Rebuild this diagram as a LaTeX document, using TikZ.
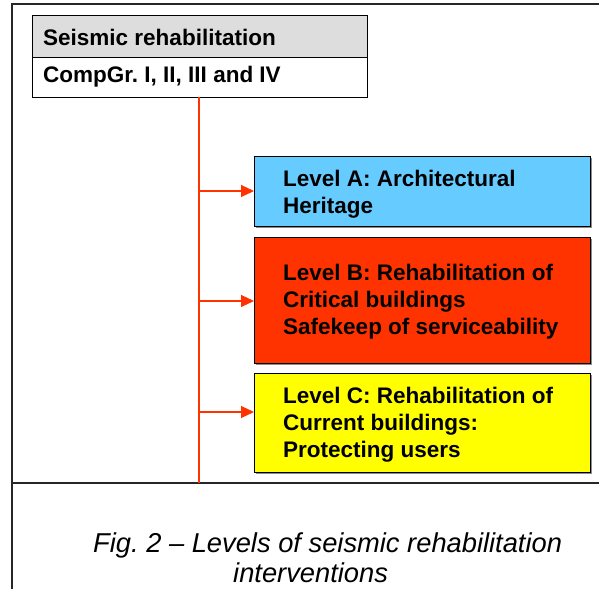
\documentclass[tikz,border=0pt]{standalone}
\usepackage{fontspec}
\setmainfont{Liberation Sans}
\usetikzlibrary{arrows.meta}
\frenchspacing
\definecolor{hdrgrey}{HTML}{DDDDDD}
\definecolor{lvlA}{HTML}{66CCFF}
\definecolor{lvlB}{HTML}{FF3300}
\definecolor{lvlC}{HTML}{FFFF00}
\definecolor{conn}{HTML}{FF3300}
\tikzset{
  frame/.style={draw=black!85, line width=1.4pt},
  levelbox/.style={draw=black, line width=0.9pt},
  boxshadow/.style={fill=black!45, draw=none},
  lbl/.style={font={\bfseries\fontsize{22.5}{26.8}\selectfont}, inner sep=0pt, align=left},
  hdr/.style={font={\bfseries\fontsize{22.5}{26}\selectfont}, inner sep=0pt},
  captext/.style={font={\itshape\fontsize{27.3}{30}\selectfont}, inner sep=0pt},
  link/.style={draw=conn, line width=1.1pt},
  arr/.style={link, -{Triangle[length=13pt,width=12pt]}}
}
\begin{document}
\begin{tikzpicture}[x=1pt,y=-1pt]
\useasboundingbox (0,0) rectangle (599,589);
\fill[white] (0,0) rectangle (599,589);
% outer frame
\coordinate (ftl) at (12,4);
\coordinate (ftr) at (599,4);
\coordinate (fbl) at (12,589);
\coordinate (fml) at (12,483);
\coordinate (fmr) at (599,483);
\draw[frame] (ftr) -- (ftl) -- (fbl);
\draw[frame] (fml) -- (fmr);
% header box
\fill[hdrgrey] (32,15) rectangle (367,57);
\draw[levelbox] (32,15) rectangle (367,97);
\draw[levelbox] (32,57) -- (367,57);
\node[hdr, anchor=base west] (h1) at (43,45) {Seismic rehabilitation};
\node[hdr, anchor=base west] (h2) at (43,82) {CompGr. I, II, III and IV};
\coordinate (hb) at (199,97);
% level boxes (shadow + box)
\fill[boxshadow] (256,158) rectangle (592,228);
\node[levelbox, fill=lvlA, minimum width=336pt, minimum height=70pt, anchor=north west, inner sep=0pt] (A) at (254,156) {};
\fill[boxshadow] (256,239) rectangle (592,365);
\node[levelbox, fill=lvlB, minimum width=336pt, minimum height=126pt, anchor=north west, inner sep=0pt] (B) at (254,237) {};
\fill[boxshadow] (256,375) rectangle (592,474);
\node[levelbox, fill=lvlC, minimum width=336pt, minimum height=99pt, anchor=north west, inner sep=0pt] (C) at (254,373) {};
% texts (base = last line's baseline)
\node[lbl, anchor=base west] (tA) at (283,213) {Level A: Architectural\\Heritage};
\node[lbl, anchor=base west] (tB) at (283,334) {Level B: Rehabilitation of\\Critical buildings\\Safekeep of serviceability};
\node[lbl, anchor=base west] (tC) at (283,457) {Level C: Rehabilitation of\\Current buildings:\\Protecting users};
% connectors
\coordinate (vb) at (199,483);
\draw[link] (hb) -- (vb);
\coordinate (jA) at (199,191);
\coordinate (jB) at (199,301);
\coordinate (jC) at (199,412);
\draw[arr] (jA) -- (A.west |- jA);
\draw[arr] (jB) -- (B.west |- jB);
\draw[arr] (jC) -- (C.west |- jC);
% caption
\node[captext, anchor=base west] (c1) at (93,552) {Fig.\ 2 – Levels of seismic rehabilitation};
\node[captext, anchor=base west] (c2) at (233,582) {interventions};
\end{tikzpicture}
\end{document}
